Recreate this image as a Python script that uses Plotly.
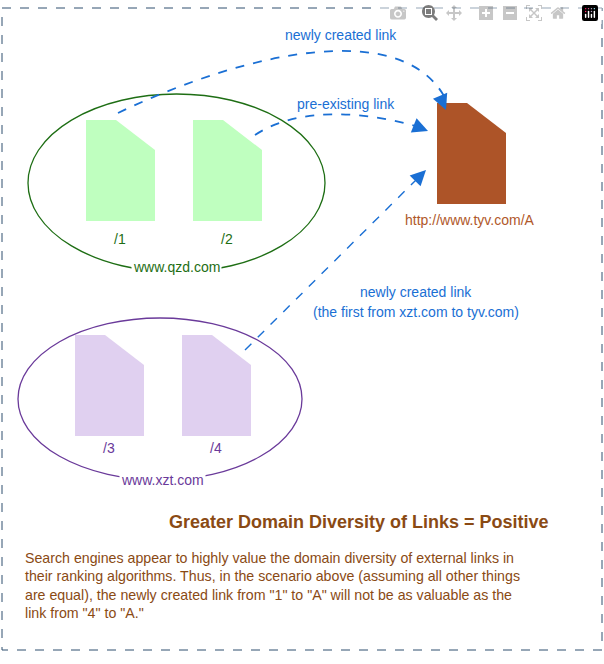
import plotly.graph_objects as go

# pages: name, left, top, width, height, fill
page_names = ["/1", "/2", "/3", "/4", "A"]
page_x = [86, 193, 75, 182, 437]
page_y = [120, 120, 335, 335, 103]
page_fill = ["#bfffbf", "#bfffbf", "#e0d0f0", "#e0d0f0", "#ad5428"]
page_w = 69
page_h = 101
fold = 30

site_names = ["www.qzd.com", "www.xzt.com"]
site_colors = ["#1e6e14", "#6a3a9a"]
blue = "#1a6fd4"
brown = "#8a4a14"

fig = go.Figure()
shapes = []
# outer dashed border
shapes.append(dict(type="rect", x0=2, y0=8, x1=602, y1=650,
                   line=dict(color="#2f4f6f", width=1, dash="dash")))
# site ellipses
shapes.append(dict(type="circle", x0=28, y0=94, x1=325, y1=272, line=dict(color=site_colors[0], width=1.3)))
shapes.append(dict(type="circle", x0=18, y0=318, x1=302, y1=480, line=dict(color=site_colors[1], width=1.3)))
for x, y, c in zip(page_x, page_y, page_fill):
    p = f"M {x} {y} L {x+page_w-fold-9} {y} L {x+page_w} {y+fold} L {x+page_w} {y+page_h} L {x} {y+page_h} Z"
    shapes.append(dict(type="path", path=p, fillcolor=c, line=dict(width=0)))
# links
shapes.append(dict(type="path", path="M 118 113 C 250 50, 400 20, 444 96",
                   line=dict(color=blue, width=1.8, dash="dash")))
shapes.append(dict(type="path", path="M 255 135 C 300 105, 370 112, 422 128",
                   line=dict(color=blue, width=1.8, dash="dash")))
shapes.append(dict(type="line", x0=245, y0=350, x1=421, y1=175,
                   line=dict(color=blue, width=1.4, dash="dash")))
fig.update_layout(shapes=shapes)

ann = []
# arrowheads
for (xe, ye, xs, ys) in [(446, 110, 441, 98), (428, 131, 418, 127), (426, 170, 418, 178)]:
    ann.append(dict(x=xe, y=ye, ax=xs, ay=ys, xref="x", yref="y", axref="x", ayref="y",
                    showarrow=True, arrowhead=2, arrowsize=1.4, arrowwidth=2.2,
                    arrowcolor=blue, text=""))
def txt(x, y, s, color, size=14, xanchor="center", bold=False, bg=None):
    ann.append(dict(x=x, y=y, xref="x", yref="y", text=f"<b>{s}</b>" if bold else s,
                    showarrow=False, xanchor=xanchor, yanchor="middle",
                    font=dict(color=color, size=size, family="Arial"),
                    bgcolor=bg))
for name, x in zip(page_names[:4], page_x[:4]):
    txt(x + 34, 239 if name in ("/1", "/2") else 448, name, site_colors[0] if name in ("/1", "/2") else site_colors[1])
txt(176, 267, site_names[0], site_colors[0], bg="white")
txt(162, 480, site_names[1], site_colors[1], bg="white")
txt(470, 220, "http://www.tyv.com/A", "#b0582a")
txt(341, 35, "newly created link", blue)
txt(346, 104, "pre-existing link", blue)
txt(416, 292, "newly created link", blue)
txt(416, 312, "(the first from xzt.com to tyv.com)", blue)
txt(359, 522, "Greater Domain Diversity of Links = Positive", brown, size=18, bold=True)
ann.append(dict(x=23, y=585, xref="x", yref="y", showarrow=False, xanchor="left", yanchor="middle", align="left",
                text="Search engines appear to highly value the domain diversity of external links in<br>"
                     "their ranking algorithms. Thus, in the scenario above (assuming all other things<br>"
                     "are equal), the newly created link from \"1\" to \"A\" will not be as valuable as the<br>"
                     "link from \"4\" to \"A.\"",
                font=dict(color=brown, size=14.2, family="Arial")))
fig.update_layout(annotations=ann)

fig.update_xaxes(range=[0, 604], visible=False)
fig.update_yaxes(range=[664, 0], visible=False)
fig.update_layout(width=604, height=664, margin=dict(l=0, r=0, t=0, b=0),
                  plot_bgcolor="white", paper_bgcolor="white", showlegend=False)
fig.write_html("out.html", post_script="document.body.style.margin='0';")
